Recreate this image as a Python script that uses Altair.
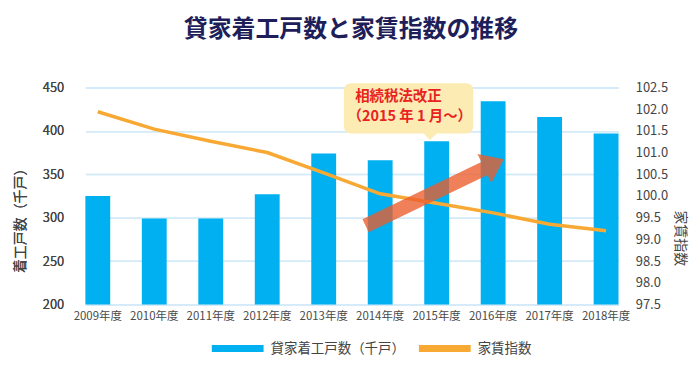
import altair as alt
import pandas as pd

FONT = "Noto Sans CJK JP"

# ---- data ----
years = ["2009年度", "2010年度", "2011年度", "2012年度", "2013年度",
         "2014年度", "2015年度", "2016年度", "2017年度", "2018年度"]
starts = [325, 299, 299, 327, 374, 366, 388, 434, 416, 397]          # 千戸
rent_index = [101.94, 101.54, 101.26, 101.0, 100.53, 100.05, 99.83, 99.61, 99.35, 99.2]
series_names = ["貸家着工戸数（千戸）", "家賃指数"]
left_ticks = [200, 250, 300, 350, 400, 450]
right_ticks = [97.5, 98.0, 98.5, 99.0, 99.5, 100.0, 100.5, 101.0, 101.5, 102.0, 102.5]
note_year = ["2015年度"]
note_lines = ["相続税法改正", "（2015 年 1 月～）"]
note_line_y = [439.1, 415.6]      # in 着工戸数 units
callout_y = [425.9]
arrow_y = [329.0]

bar_df = pd.DataFrame({"year": years, "starts": starts, "series": series_names[0]})
line_df = pd.DataFrame({"year": years, "rent": rent_index})
callout_df = pd.DataFrame({"year": note_year, "y": callout_y})
arrow_df = pd.DataFrame({"year": note_year, "y": arrow_y})
note1_df = pd.DataFrame({"year": note_year, "y": [note_line_y[0]], "t": [note_lines[0]]})
note2_df = pd.DataFrame({"year": note_year, "y": [note_line_y[1]], "t": [note_lines[1]]})

BLUE = "#00B0F0"
ORANGE = "#F8A934"
GRID = "#D3EAF8"
TXT = "#444444"

x_scale = alt.Scale(domain=years, range=[17.7, 553.2], paddingInner=0.56, paddingOuter=0)
y_left_scale = alt.Scale(domain=[200, 450], nice=False, zero=False)

x_axis = alt.Axis(title=None, labelAngle=0, domain=False, ticks=False,
                  labelFontSize=11.5, labelColor="#4A4A4A", labelPadding=6,
                  labelFont=FONT)
left_axis = alt.Axis(values=left_ticks, title="着工戸数（千戸）", grid=True,
                     gridColor=GRID, gridWidth=1.5, domain=False, ticks=False,
                     labelFontSize=13, labelColor=TXT, labelPadding=4, labelFont=FONT,
                     titleFont=FONT, titleFontSize=14, titleFontWeight="normal",
                     titleColor=TXT, titleAngle=270, titleX=-47, titleY=130,
                     titleAlign="center", titleBaseline="middle")

x_enc = alt.X("year:N", scale=x_scale, sort=years, axis=x_axis)

legend_symbol = "M-1,-0.135L1,-0.135L1,0.135L-1,0.135Z"

bars = alt.Chart(bar_df).mark_bar().encode(
    x=x_enc,
    y=alt.Y("starts:Q", scale=y_left_scale, axis=left_axis),
    y2=alt.datum(200),
    color=alt.Color("series:N",
                    scale=alt.Scale(domain=series_names, range=[BLUE, ORANGE]),
                    legend=alt.Legend(title=None, orient="none", direction="horizontal",
                                      legendX=144.7, legendY=236,
                                      symbolType=legend_symbol, symbolSize=2704,
                                      symbolStrokeWidth=0, symbolOpacity=1,
                                      labelFont=FONT, labelFontSize=13.5, labelColor=TXT,
                                      labelOffset=7, columnPadding=14)),
)

callout_path = ("M-0.88,-0.389L0.88,-0.389Q1,-0.389 1,-0.269L1,0.269Q1,0.389 0.88,0.389"
                "L0.435,0.389L0.328,0.49L0.235,0.389L-0.88,0.389Q-1,0.389 -1,0.269"
                "L-1,-0.269Q-1,-0.389 -0.88,-0.389Z")
arrow_path = ("M-1,-0.093L0.72,-0.093L0.72,-0.21L1,0L0.72,0.21L0.72,0.093L-1,0.093Z")


def y_ann(f):
    return alt.Y(f, scale=y_left_scale, axis=left_axis)


callout = alt.Chart(callout_df).mark_point(
    shape=callout_path, size=16900, filled=True, color="#FDEBB4",
    opacity=1, strokeWidth=0, xOffset=-28.2
).encode(x=x_enc, y=y_ann("y:Q"))

arrow = alt.Chart(arrow_df).mark_point(
    shape=arrow_path, size=23716, filled=True, color="#EC5C2C",
    opacity=0.78, strokeWidth=0, angle=334.3, xOffset=-2
).encode(x=x_enc, y=y_ann("y:Q"))

note1 = alt.Chart(note1_df).mark_text(
    font=FONT, fontSize=14.5, fontWeight="bold", color="#E8231E",
    align="center", baseline="middle", dx=-38.4
).encode(x=x_enc, y=y_ann("y:Q"), text="t:N")

note2 = alt.Chart(note2_df).mark_text(
    font=FONT, fontSize=14.5, fontWeight="bold", color="#E8231E",
    align="center", baseline="middle", dx=-27
).encode(x=x_enc, y=y_ann("y:Q"), text="t:N")

left_layer = alt.layer(bars, callout, note1, note2)

line = alt.Chart(line_df).mark_line(color=ORANGE, strokeWidth=3.5).encode(
    x=x_enc,
    y=alt.Y("rent:Q", scale=alt.Scale(domain=[97.5, 102.5], nice=False, zero=False),
            axis=alt.Axis(orient="right", values=right_ticks, format=".1f", grid=False,
                          domain=False, ticks=False, labelFontSize=13, labelColor=TXT,
                          labelPadding=9, labelFont=FONT,
                          title="家賃指数", titleFont=FONT, titleFontSize=14,
                          titleFontWeight="normal", titleColor=TXT, titleAngle=90,
                          titleX=53, titleY=151, titleAlign="center",
                          titleBaseline="middle")),
)

arrow_layer = alt.layer(arrow)

chart = alt.layer(left_layer, line, arrow_layer).resolve_scale(
    y="independent"
).properties(
    width=561, height=218,
    title=alt.TitleParams("貸家着工戸数と家賃指数の推移", font=FONT, fontSize=24,
                          fontWeight="bold", color="#1E1E5A", anchor="middle",
                          frame="group", offset=40, dx=4),
    autosize=alt.AutoSizeParams(type="none"),
    padding={"left": 60, "top": 79, "right": 66, "bottom": 58},
).configure_view(stroke=None)

chart.save("out.html", embed_options={"renderer": "svg", "actions": False})
